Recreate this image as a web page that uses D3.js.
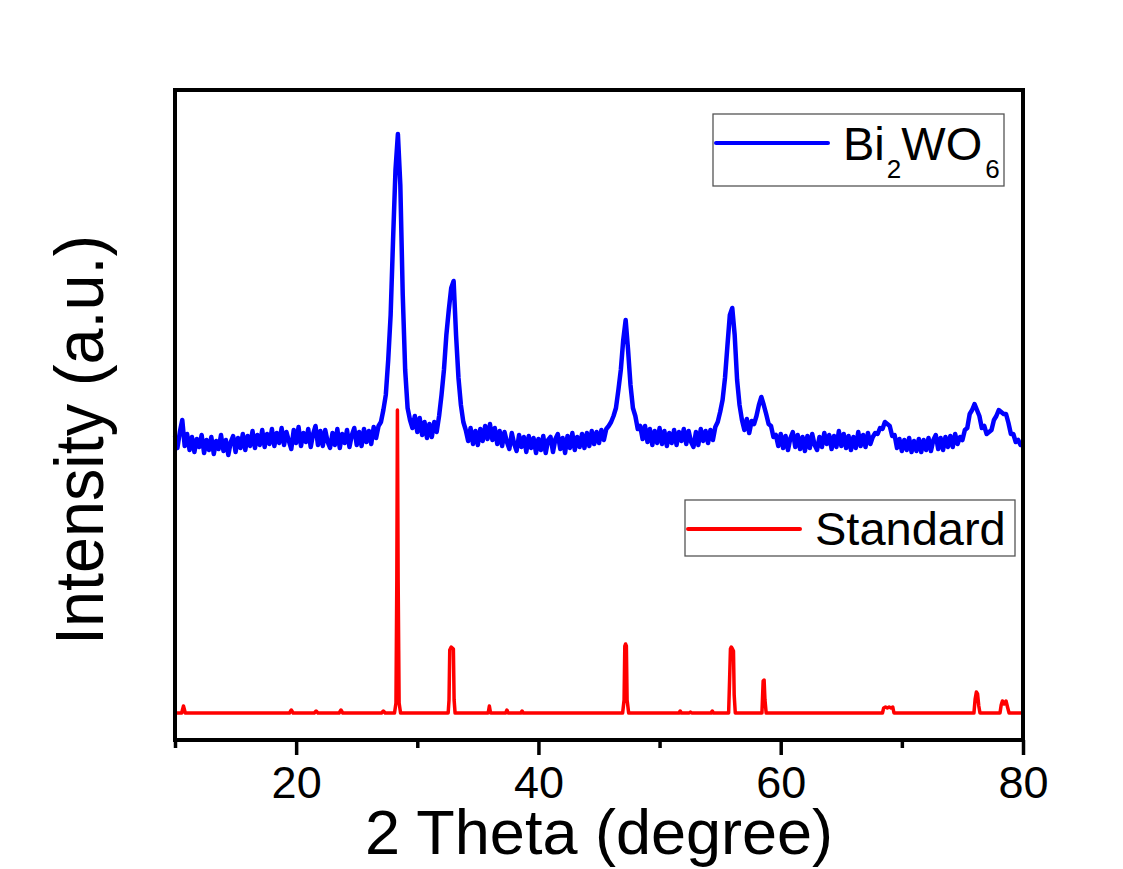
<!DOCTYPE html>
<html>
<head>
<meta charset="utf-8">
<script src="https://cdn.jsdelivr.net/npm/d3@7"></script>
<style>
  body { margin: 0; background: #fff; }
  svg { display: block; font-family: Arial, "Liberation Sans", sans-serif; }
</style>
</head>
<body>
<svg id="chart" width="1123" height="869"></svg>
<script>
// measured pattern, one value every 0.2 degree from 10 to 80
const thetaStart = 10;
const thetaStep = 0.2;
const measured = [
  304, 292, 308, 320, 294,  306, 290, 303, 288, 301,  // 10-11
  293, 305, 287, 300, 290,  303, 286, 299, 291, 305,  // 12-13
  289, 300, 285, 298, 304,  288, 302, 292, 306, 290,  // 14-15
  304, 294, 309, 292, 305,  295, 310, 293, 306, 296,  // 16-17
  311, 294, 307, 297, 312,  295, 308, 299, 291, 310,  // 18-19
  297, 313, 294, 307, 298,  311, 293, 306, 314, 295,  // 20-21
  309, 294, 310, 298, 292,  307, 295, 311, 292, 306,  // 22-23
  297, 310, 293, 305, 312,  295, 308, 294, 311, 298,  // 24-25
  309, 296, 313, 302, 314,  318, 330, 345, 380, 425,  // 26-27
  500, 570, 606, 555, 445,  370, 332, 320, 312, 324,  // 28-29
  308, 322, 305, 318, 302,  316, 303, 318, 308, 324,  // 30-31
  345, 370, 405, 430, 452,  459, 405, 362, 335, 318,  // 32-33
  310, 299, 312, 296, 309,  295, 311, 299, 314, 301,  // 34-35
  316, 300, 312, 296, 309,  294, 308, 298, 291, 307,  // 36-37
  296, 289, 305, 293, 303,  288, 304, 292, 302, 287,  // 38-39
  301, 290, 304, 287, 300,  303, 288, 301, 306, 291,  // 40-41
  302, 287, 304, 292, 307,  290, 303, 293, 306, 292,  // 42-43
  307, 294, 309, 296, 308,  297, 310, 300, 311, 314,  // 44-45
  318, 324, 332, 350, 370,  400, 420, 390, 355, 332,  // 46-47
  324, 311, 314, 301, 314,  298, 311, 295, 309, 297,  // 48-49
  312, 296, 309, 294, 307,  297, 310, 295, 308, 299,  // 50-51
  311, 296, 309, 298, 293,  308, 295, 311, 299, 309,  // 52-53
  297, 310, 300, 313, 318,  328, 340, 362, 394, 425,  // 54-55
  432, 405, 360, 335, 320,  310, 321, 307, 319, 316,  // 56-57
  324, 335, 343, 335, 326,  316, 314, 303, 305, 294,  // 58-59
  306, 292, 304, 290, 302,  308, 293, 305, 291, 303,  // 60-61
  289, 304, 292, 306, 295,  290, 303, 293, 307, 296,  // 62-63
  305, 291, 304, 293, 309,  294, 306, 292, 304, 290,  // 64-65
  303, 292, 308, 294, 305,  293, 307, 296, 303, 307,  // 66-67
  306, 312, 311, 318, 316,  314, 304, 305, 292, 301,  // 68-69
  289, 300, 290, 302, 288,  299, 289, 301, 288, 300,  // 70-71
  290, 302, 289, 300, 305,  291, 302, 290, 303, 293,  // 72-73
  304, 293, 306, 296, 303,  300, 310, 312, 326, 330,  // 74-75
  336, 330, 324, 312, 314,  306, 308, 310, 320, 324,  // 76-77
  330, 328, 326, 326, 317,  306, 306, 298, 300, 295,  // 78-79
  297                                                  // 80
];

// standard card pattern, [2 theta, intensity]
const standard = [
  [10.0, 27], [10.55, 27], [10.7, 34], [10.85, 27],
  [19.45, 27], [19.6, 30], [19.75, 27],
  [21.5, 27], [21.65, 29], [21.8, 27],
  [23.55, 27], [23.7, 30], [23.85, 27],
  [27.05, 27], [27.2, 29], [27.35, 27],
  [28.12, 27], [28.24, 37], [28.31, 160], [28.36, 330], [28.42, 160], [28.5, 37], [28.62, 27],
  [32.55, 27], [32.62, 40], [32.68, 90], [32.8, 93], [32.98, 91], [33.04, 40], [33.12, 27],
  [35.85, 27], [35.95, 34], [36.05, 27],
  [37.3, 27], [37.4, 30], [37.5, 27],
  [38.55, 27], [38.65, 29], [38.75, 27],
  [46.95, 27], [47.07, 40], [47.13, 94], [47.19, 96], [47.26, 94], [47.32, 40], [47.45, 27],
  [51.6, 27], [51.7, 29], [51.8, 27],
  [52.45, 27], [52.55, 28], [52.65, 27],
  [54.25, 27], [54.35, 29], [54.45, 27],
  [55.7, 27], [55.78, 60], [55.85, 91], [55.92, 93], [56.02, 91], [56.1, 89], [56.16, 45], [56.25, 27],
  [58.45, 27], [58.55, 59], [58.63, 60], [58.7, 40], [58.8, 27],
  [68.4, 27], [68.5, 32], [68.65, 33], [68.8, 32], [68.95, 33], [69.1, 32], [69.25, 33], [69.35, 27],
  [75.95, 27], [76.05, 41], [76.15, 48], [76.25, 46], [76.35, 34], [76.45, 27],
  [78.1, 27], [78.2, 35], [78.3, 39], [78.45, 36], [78.6, 39], [78.72, 33], [78.85, 27],
  [80.0, 27]
];

const majorTicks = [20, 40, 60, 80];
const minorTicks = [10, 30, 50, 70];

const svg = d3.select("#chart");

const x = d3.scaleLinear().domain([10, 80]).range([175, 1023]);
const y = d3.scaleLinear().domain([0, 650]).range([740, 90]);

// bottom axis ticks, outward
const minorAxis = d3.axisBottom(x).tickValues(minorTicks).tickSize(8).tickFormat("");
const majorAxis = d3.axisBottom(x).tickValues(majorTicks).tickSize(15).tickPadding(11).tickFormat(d3.format("d"));

svg.append("g")
  .attr("transform", "translate(0,740)")
  .call(minorAxis)
  .call(g => g.select(".domain").remove())
  .call(g => g.selectAll("line").attr("stroke", "#000").attr("stroke-width", 3.5));

svg.append("g")
  .attr("transform", "translate(0,740)")
  .call(majorAxis)
  .call(g => g.select(".domain").remove())
  .call(g => g.selectAll("line").attr("stroke", "#000").attr("stroke-width", 3.5))
  .call(g => g.selectAll("text")
    .attr("fill", "#000")
    .attr("font-size", 45)
    .attr("font-family", "Arial, 'Liberation Sans', sans-serif"));

// lines
const line = d3.line()
  .x(d => x(d[0]))
  .y(d => y(d[1]));

const measuredPoints = measured.map((v, i) => [thetaStart + i * thetaStep, v]);

svg.append("path")
  .datum(standard)
  .attr("fill", "none")
  .attr("stroke", "#ff0000")
  .attr("stroke-width", 3.5)
  .attr("stroke-linejoin", "round")
  .attr("d", line);

svg.append("path")
  .datum(measuredPoints)
  .attr("fill", "none")
  .attr("stroke", "#0000ff")
  .attr("stroke-width", 4.5)
  .attr("stroke-linejoin", "round")
  .attr("d", line);

// frame
svg.append("rect")
  .attr("x", x(10))
  .attr("y", y(650))
  .attr("width", x(80) - x(10))
  .attr("height", y(0) - y(650))
  .attr("fill", "none")
  .attr("stroke", "#000")
  .attr("stroke-width", 4);

// axis titles
svg.append("text")
  .attr("x", (x(10) + x(80)) / 2)
  .attr("y", 854)
  .attr("text-anchor", "middle")
  .attr("font-size", 63)
  .text("2 Theta (degree)");

svg.append("text")
  .attr("transform", "translate(103,440) rotate(-90)")
  .attr("text-anchor", "middle")
  .attr("font-size", 68)
  .attr("textLength", 410)
  .attr("lengthAdjust", "spacingAndGlyphs")
  .text("Intensity (a.u.)");

// legends
const blueLegend = svg.append("g");
blueLegend.append("rect")
  .attr("x", 713).attr("y", 114).attr("width", 291).attr("height", 72)
  .attr("fill", "#fff").attr("stroke", "#555").attr("stroke-width", 1.3);
blueLegend.append("line")
  .attr("x1", 716).attr("x2", 828).attr("y1", 143).attr("y2", 143)
  .attr("stroke", "#0000ff").attr("stroke-width", 4).attr("stroke-linecap", "round");
const bt = blueLegend.append("text").attr("x", 843).attr("y", 160).attr("font-size", 47);
bt.append("tspan").text("Bi");
bt.append("tspan").attr("font-size", 26).attr("dy", 18).attr("dx", 2).text("2");
bt.append("tspan").attr("dy", -18).text("WO");
bt.append("tspan").attr("font-size", 26).attr("dy", 18).attr("dx", 3).text("6");

const redLegend = svg.append("g");
redLegend.append("rect")
  .attr("x", 685).attr("y", 500).attr("width", 330).attr("height", 56)
  .attr("fill", "#fff").attr("stroke", "#555").attr("stroke-width", 1.3);
redLegend.append("line")
  .attr("x1", 688).attr("x2", 800).attr("y1", 529).attr("y2", 529)
  .attr("stroke", "#ff0000").attr("stroke-width", 4).attr("stroke-linecap", "round");
redLegend.append("text")
  .attr("x", 815).attr("y", 545).attr("font-size", 47)
  .text("Standard");
</script>
</body>
</html>
